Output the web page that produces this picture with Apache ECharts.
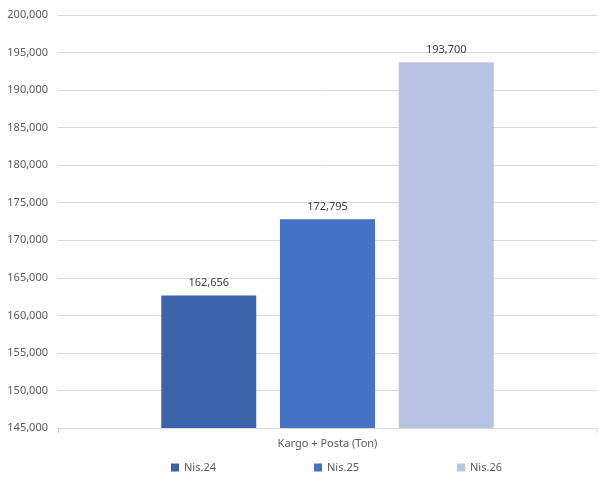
<!DOCTYPE html>
<html><head><meta charset="utf-8">
<script src="https://cdn.jsdelivr.net/npm/echarts@6/dist/echarts.min.js"></script>
<style>html,body{margin:0;padding:0;background:#fff}#c{width:598px;height:481px}</style>
</head><body><div id="c"></div>
<script>
const categories = ['Kargo + Posta (Ton)'];
const seriesNames = ['Nis.24', 'Nis.25', 'Nis.26'];
const nis24 = [162656];
const nis25 = [172795];
const nis26 = [193700];
const colors = ['#3A63AA', '#4472C4', '#B9C3E3'];
const fmt = v => v.toLocaleString('en-US');
const font = 'Noto Sans';
const chart = echarts.init(document.getElementById('c'));
const data = [nis24, nis25, nis26];
chart.setOption({
  animation: false,
  textStyle: { fontFamily: font },
  grid: { left: 58, right: 1, top: 15, bottom: 53 },
  legend: {
    bottom: 3, left: 166, itemWidth: 8, itemHeight: 8, itemGap: 98,
    icon: 'rect',
    textStyle: { color: '#595959', fontSize: 11, fontFamily: font },
    data: seriesNames
  },
  xAxis: {
    type: 'category', data: categories,
    axisLine: { lineStyle: { color: '#D9D9D9' } },
    axisTick: { show: true, length: 5, lineStyle: { color: '#D9D9D9' } },
    axisLabel: { color: '#595959', fontSize: 11, margin: 10 }
  },
  yAxis: {
    type: 'value', min: 145000, max: 200000, interval: 5000,
    axisLine: { show: false }, axisTick: { show: false },
    splitLine: { lineStyle: { color: '#D9D9D9' } },
    axisLabel: { color: '#595959', fontSize: 11, margin: 10, formatter: fmt }
  },
  series: seriesNames.map((n, i) => ({
    name: n, type: 'bar', data: data[i], barWidth: 95, barGap: '25%',
    itemStyle: { color: colors[i] },
    label: { show: true, position: 'top', color: '#404040', fontSize: 11, distance: 7, formatter: p => fmt(p.value) }
  }))
});
</script></body></html>
